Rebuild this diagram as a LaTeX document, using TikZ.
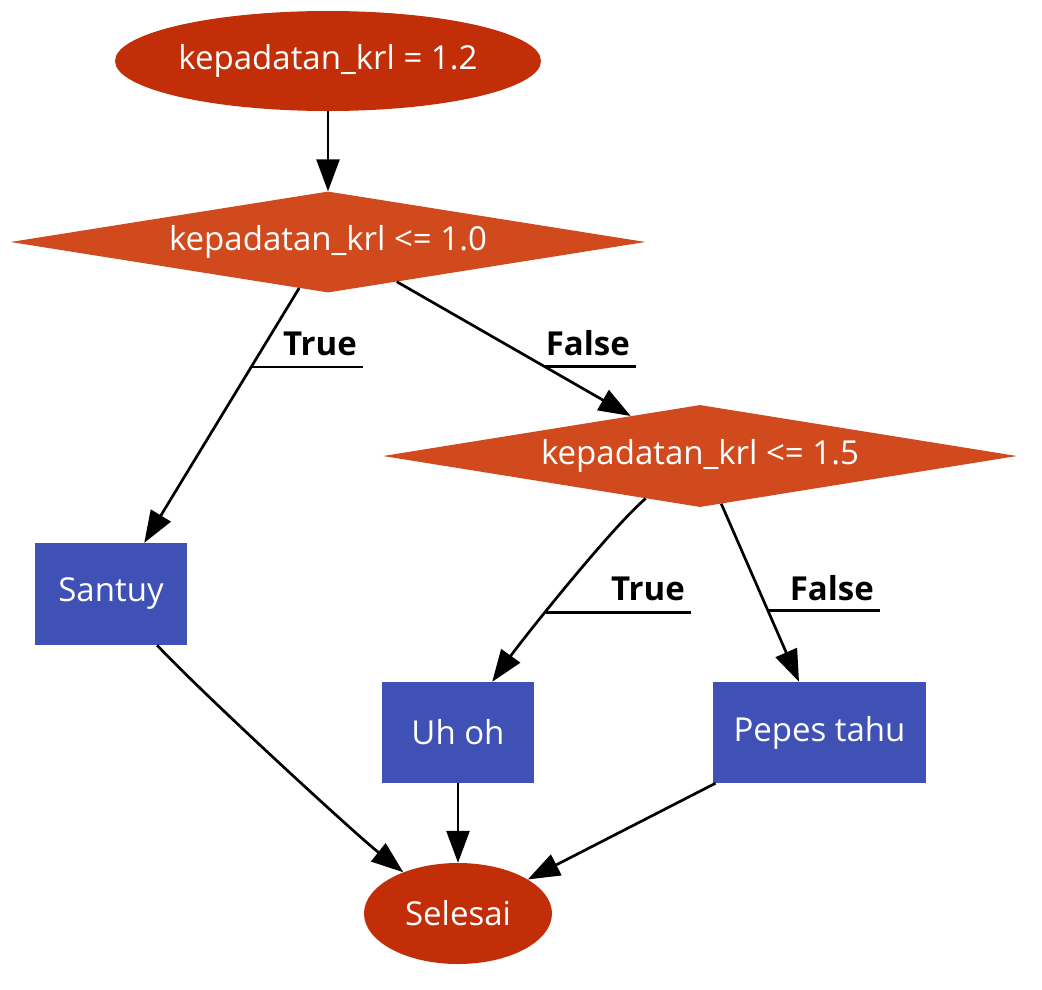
\documentclass[tikz,border=0pt]{standalone}
\usepackage{fontspec}
\setmainfont{Open Sans}
\usetikzlibrary{shapes.geometric,arrows.meta}
\definecolor{termc}{HTML}{C12E08}
\definecolor{decc}{HTML}{D04A1E}
\definecolor{procc}{HTML}{3F51B5}
\begin{document}
\begin{tikzpicture}[x=1pt,y=-1pt,
 every node/.style={font=\fontsize{33}{40}\selectfont},
 term/.style={ellipse, fill=termc, text=white, inner sep=0pt},
 dec/.style={diamond, fill=decc, text=white, inner sep=0pt, aspect=6.3},
 proc/.style={rectangle, fill=procc, text=white, inner sep=0pt},
 lbl/.style={font=\fontsize{33}{40}\selectfont\bfseries, inner xsep=6pt, inner ysep=0pt},
 arr/.style={draw=black, line width=2.7pt, -{Triangle[length=32pt,width=23pt]}},
 ul/.style={draw=black, line width=2.7pt}]
\useasboundingbox (0,0) rectangle (1042,989);
\node[term, minimum width=426pt, minimum height=100pt] (start) at (328,61) {kepadatan\_krl = 1.2};
\node[dec, minimum width=635pt, minimum height=101pt] (d1) at (328,242) {kepadatan\_krl <= 1.0};
\node[dec, minimum width=634pt, minimum height=102pt] (d2) at (700,456) {kepadatan\_krl <= 1.5};
\node[proc, minimum width=152pt, minimum height=102pt] (santuy) at (111,594) {Santuy};
\node[proc, minimum width=152pt, minimum height=101pt] (uhoh) at (458,732.5) {Uh oh};
\node[proc, minimum width=213pt, minimum height=101pt] (pepes) at (819.5,732.5) {Pepes tahu};
\node[term, minimum width=188pt, minimum height=101pt] (selesai) at (458,913.5) {Selesai};

\draw[arr] (start.south) -- (d1.north);
\draw[arr] (d1.238.3) -- coordinate[pos=0.31] (e1) (santuy.57.9);
\draw[arr] (d1.-30.1) -- coordinate[pos=0.632] (e2) (d2.150.4);
\draw[arr] (d2.218.9) .. controls +(-35,30) and +(30,-42) .. coordinate[pos=0.62] (e3) (uhoh.56.3);
\draw[arr] (d2.-66.4) -- coordinate[pos=0.6] (e4) (pepes.112.3);
\draw[arr] (santuy.-48) .. controls +(45,48) and +(-50,-40) .. (selesai.143.3);
\draw[arr] (uhoh.south) -- (selesai.north);
\draw[arr] (pepes.206.7) -- (selesai.26.2);

\node[lbl, anchor=base east] (t1) at (363,355) {True};
\node[lbl, anchor=base east] (f1) at (636,355) {False};
\node[lbl, anchor=base east] (t2) at (691,600) {True};
\node[lbl, anchor=base east] (f2) at (880,600) {False};
\draw[ul] (e1) -- (e1 -| t1.east);
\draw[ul] (e2) -- (e2 -| f1.east);
\draw[ul] (e3) -- (e3 -| t2.east);
\draw[ul] (e4) -- (e4 -| f2.east);
\end{tikzpicture}
\end{document}
